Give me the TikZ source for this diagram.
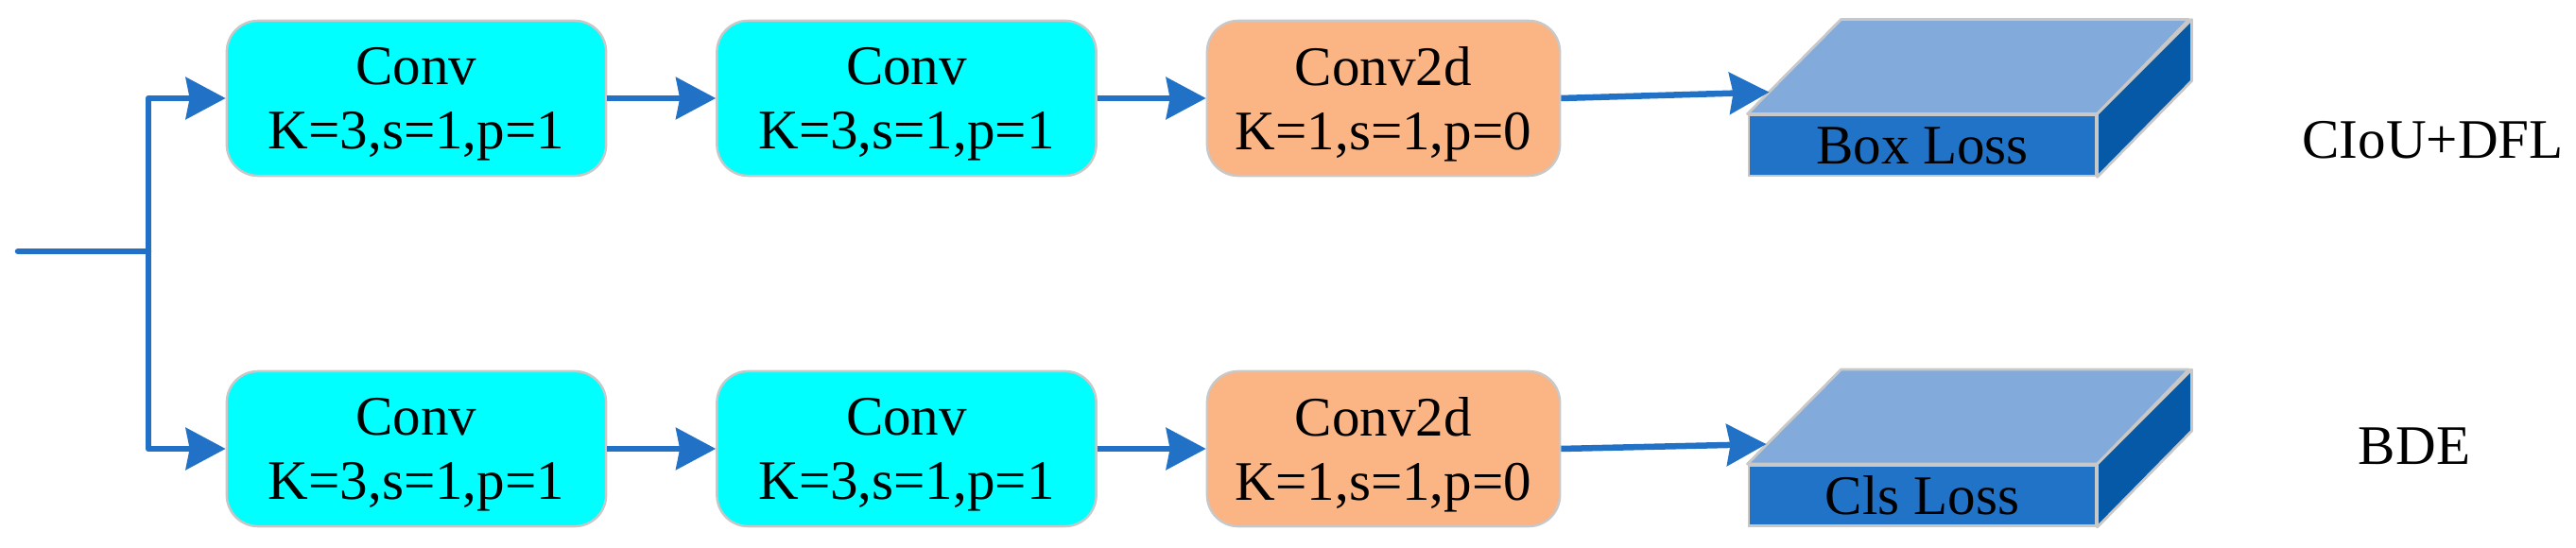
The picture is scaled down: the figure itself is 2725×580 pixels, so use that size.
\documentclass[tikz,border=0pt]{standalone}
\usepackage{fontspec}
\setmainfont{Liberation Serif}
\usetikzlibrary{arrows.meta,calc}
\definecolor{lineblue}{RGB}{33,114,198}
\definecolor{convcyan}{RGB}{0,255,255}
\definecolor{convorange}{RGB}{251,180,132}
\definecolor{edgegray}{RGB}{200,200,200}
\definecolor{topblue}{RGB}{130,170,219}
\definecolor{frontblue}{RGB}{33,115,199}
\definecolor{sideblue}{RGB}{5,89,166}
\begin{document}
\begin{tikzpicture}[x=0.01cm,y=-0.01cm,
  convbox/.style={draw=edgegray, line width=0.7pt, rounded corners=0.33cm, minimum height=1.64cm, align=center, font=\fontsize{16.8}{19.3}\selectfont, inner sep=0pt, text depth=0pt},
  conv/.style={convbox, fill=convcyan, minimum width=4.01cm},
  conv2d/.style={convbox, fill=convorange, minimum width=3.73cm},
  flow/.style={draw=lineblue, line width=1.85pt, -{Stealth[length=0.42cm,width=0.44cm,inset=0.04cm]}},
  wire/.style={draw=lineblue, line width=1.85pt, line cap=round},
  front/.style={draw=edgegray, line width=0.8pt, fill=frontblue, minimum width=3.67cm, minimum height=0.64cm, inner sep=0pt, font=\fontsize{16.8}{19.3}\selectfont},
  face/.style={draw=edgegray, line width=0.8pt, line join=round},
  lbl/.style={font=\fontsize{16.8}{19.3}\selectfont, inner sep=0pt}
]
\useasboundingbox (0,0) rectangle (2725,580);

% top row
\node[conv] (c1a) at (440.5,104) {Conv\\K=3,s=1,p=1};
\node[conv] (c2a) at (959,104) {Conv\\K=3,s=1,p=1};
\node[conv2d] (c3a) at (1463.5,104) {Conv2d\\K=1,s=1,p=0};
% bottom row
\node[conv] (c1b) at (440.5,475) {Conv\\K=3,s=1,p=1};
\node[conv] (c2b) at (959,475) {Conv\\K=3,s=1,p=1};
\node[conv2d] (c3b) at (1463.5,475) {Conv2d\\K=1,s=1,p=0};

% loss cuboids
\node[front] (la) at (2033.5,154) {Box Loss};
\filldraw[face, fill=topblue] (la.north west) -- ++(99,-100) -- ++(368,0) -- (la.north east) -- cycle;
\filldraw[face, fill=sideblue] (la.north east) -- ++(100,-100) -- ++(0,65) -- (la.south east) -- cycle;

\node[front] (lb) at (2033.5,524.5) {Cls Loss};
\filldraw[face, fill=topblue] (lb.north west) -- ++(99,-100) -- ++(368,0) -- (lb.north east) -- cycle;
\filldraw[face, fill=sideblue] (lb.north east) -- ++(100,-100) -- ++(0,65) -- (lb.south east) -- cycle;

\coordinate (ta) at ($(la.north west)+(23,-23)$);
\coordinate (tb) at ($(lb.north west)+(20,-21)$);

% labels
\node[lbl] (ra) at (2573.5,148) {CIoU+DFL};
\node[lbl] (rb) at (2554,472) {BDE};

% input and split
\coordinate (in) at (19,266);
\coordinate (split) at (157,266);
\draw[wire] (in) -- (split);
\draw[flow, line join=round] (split) |- (c1a.west);
\draw[flow, line join=round] (split) |- (c1b.west);

% connectors
\draw[flow] (c1a.east) -- (c2a.west);
\draw[flow] (c2a.east) -- (c3a.west);
\draw[flow] (c3a.east) -- (ta);
\draw[flow] (c1b.east) -- (c2b.west);
\draw[flow] (c2b.east) -- (c3b.west);
\draw[flow] (c3b.east) -- (tb);
\end{tikzpicture}
\end{document}
